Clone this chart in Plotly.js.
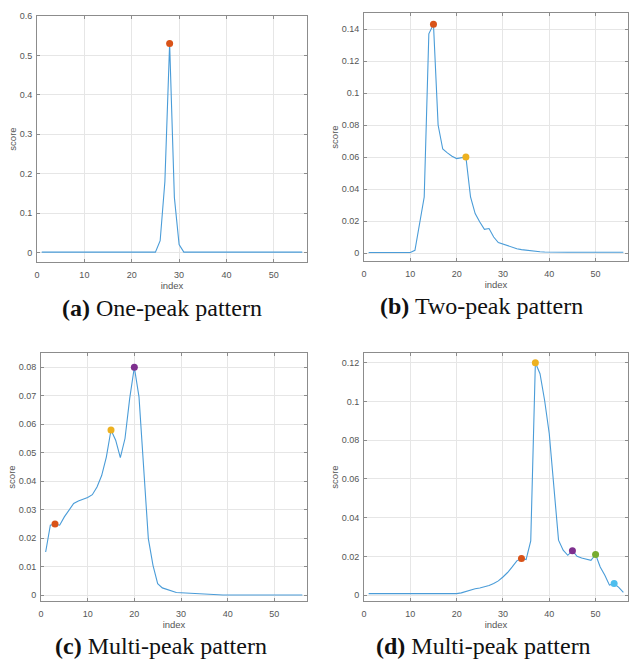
<!DOCTYPE html>
<html>
<head>
<meta charset="utf-8">
<script src="https://cdn.plot.ly/plotly-3.0.1.min.js"></script>
<style>
html,body{margin:0;padding:0;background:#fff;}
#chart{width:630px;height:662px;}
</style>
</head>
<body>
<div id="chart"></div>
<script>
// index axis
var indexValues = [1,2,3,4,5,6,7,8,9,10,11,12,13,14,15,16,17,18,19,20,21,22,23,24,25,26,27,28,29,30,31,32,33,34,35,36,37,38,39,40,41,42,43,44,45,46,47,48,49,50,51,52,53,54,55,56];

// (a) one-peak pattern
var scoresA = [0.001,0.001,0.001,0.001,0.001,0.001,0.001,0.001,0.001,0.001,
               0.001,0.001,0.001,0.001,0.001,0.001,0.001,0.001,0.001,0.001,
               0.001,0.001,0.001,0.001,0.001,0.03,0.18,0.53,0.14,0.02,
               0.001,0.001,0.001,0.001,0.001,0.001,0.001,0.001,0.001,0.001,
               0.001,0.001,0.001,0.001,0.001,0.001,0.001,0.001,0.001,0.001,
               0.001,0.001,0.001,0.001,0.001,0.001];
var peaksA = [28];

// (b) two-peak pattern
var scoresB = [0.0003,0.0003,0.0003,0.0003,0.0003,0.0003,0.0003,0.0003,0.0003,0.0003,
               0.0017,0.018,0.035,0.137,0.143,0.080,0.065,0.0626,0.0605,0.059,
               0.0597,0.060,0.035,0.0246,0.0194,0.0148,0.0153,0.010,0.0065,0.0055,
               0.0048,0.0036,0.0027,0.0021,0.0017,0.0013,0.001,0.0008,0.0006,0.0005,
               0.0005,0.0005,0.0005,0.0005,0.0005,0.0005,0.0005,0.0005,0.0005,0.0005,
               0.0005,0.0005,0.0005,0.0005,0.0005,0.0005];
var peaksB = [15, 22];

// (c) multi-peak pattern
var scoresC = [0.0152,0.0246,0.025,0.0246,0.0275,0.0298,0.0322,0.0331,0.0338,0.0343,
               0.0353,0.038,0.042,0.0485,0.058,0.0544,0.0483,0.055,0.069,0.080,
               0.0696,0.045,0.0199,0.0105,0.0041,0.0026,0.002,0.0015,0.001,0.0009,
               0.0008,0.0006,0.0005,0.0004,0.0003,0.0002,0.0001,0.0001,0.0001,0.0001,
               0.0001,0.0001,0.0001,0.0001,0.0001,0.0001,0.0001,0.0001,0.0001,0.0001,
               0.0001,0.0001,0.0001,0.0001,0.0001,0.0001];
var peaksC = [3, 15, 20];

// (d) multi-peak pattern
var scoresD = [0.0008,0.0008,0.0008,0.0008,0.0008,0.0008,0.0008,0.0008,0.0008,0.0008,
               0.0008,0.0008,0.0008,0.0008,0.0008,0.0008,0.0008,0.0008,0.0008,0.0008,
               0.0012,0.002,0.0026,0.0033,0.0037,0.0043,0.005,0.006,0.0074,0.0094,
               0.0117,0.0146,0.0177,0.019,0.0184,0.028,0.12,0.1143,0.1005,0.0833,
               0.054,0.0284,0.0232,0.0206,0.023,0.0201,0.0192,0.0186,0.018,0.021,
               0.0146,0.0103,0.0052,0.006,0.004,0.0014];
var peaksD = [34, 37, 45, 50, 54];

var captions = ['<b>(a)</b> One-peak pattern', '<b>(b)</b> Two-peak pattern',
                '<b>(c)</b> Multi-peak pattern', '<b>(d)</b> Multi-peak pattern'];
var xTickVals = [0, 10, 20, 30, 40, 50];
var yTicksA = [0, 0.1, 0.2, 0.3, 0.4, 0.5, 0.6];
var yTicksB = [0, 0.02, 0.04, 0.06, 0.08, 0.1, 0.12, 0.14];
var yTicksC = [0, 0.01, 0.02, 0.03, 0.04, 0.05, 0.06, 0.07, 0.08];
var yTicksD = [0, 0.02, 0.04, 0.06, 0.08, 0.1, 0.12];

var peakColors = ['#D95319', '#EDB120', '#7E2F8E', '#77AC30', '#4DBEEE'];
var lineColor = '#4A9CD8';

var W = 630, H = 662;
function xd(a, b) { return [a / W, b / W]; }
function yd(top, bottom) { return [1 - bottom / H, 1 - top / H]; }

var panels = [
  {s: scoresA, p: peaksA, yt: yTicksA, yr: [-0.024, 0.6],    xdom: xd(37, 307),  ydom: yd(16, 262)},
  {s: scoresB, p: peaksB, yt: yTicksB, yr: [-0.005, 0.15],   xdom: xd(364, 628), ydom: yd(13, 261)},
  {s: scoresC, p: peaksC, yt: yTicksC, yr: [-0.002, 0.085],  xdom: xd(41, 307),  ydom: yd(353, 601)},
  {s: scoresD, p: peaksD, yt: yTicksD, yr: [-0.003, 0.125],  xdom: xd(364, 628), ydom: yd(353, 601)}
];
var capPos = [[162, 308], [482, 306], [161, 646], [483, 646]];

var data = [];
var layout = {
  width: W, height: H,
  margin: {l: 0, r: 0, t: 0, b: 0},
  paper_bgcolor: '#ffffff', plot_bgcolor: '#ffffff',
  showlegend: false,
  font: {family: 'Liberation Sans, Arial, sans-serif', color: '#555555', size: 9},
  annotations: []
};

panels.forEach(function (pn, k) {
  var n = k + 1;
  var xa = n === 1 ? 'x' : 'x' + n;
  var ya = n === 1 ? 'y' : 'y' + n;
  data.push({
    type: 'scatter', mode: 'lines', x: indexValues, y: pn.s,
    xaxis: xa, yaxis: ya,
    line: {color: lineColor, width: 1.1}, hoverinfo: 'x+y'
  });
  pn.p.forEach(function (pi, j) {
    data.push({
      type: 'scatter', mode: 'markers', x: [pi], y: [pn.s[indexValues.indexOf(pi)]],
      xaxis: xa, yaxis: ya,
      marker: {color: peakColors[j], size: 7, line: {width: 0}}
    });
  });
  var axCommon = {
    showline: true, linecolor: '#8c8c8c', linewidth: 1, mirror: 'ticks',
    ticks: 'inside', ticklen: 3, tickcolor: '#8c8c8c', tickwidth: 1,
    showgrid: true, gridcolor: '#e6e6e6', gridwidth: 1, zeroline: false,
    tickfont: {size: 9, color: '#555555'}
  };
  layout['xaxis' + (n === 1 ? '' : n)] = Object.assign({}, axCommon, {
    domain: pn.xdom, anchor: ya, range: [0, 57],
    tickmode: 'array', tickvals: xTickVals, ticklabelstandoff: 4,
    title: {text: 'index', font: {size: 9.5, color: '#555555'}, standoff: 2}
  });
  layout['yaxis' + (n === 1 ? '' : n)] = Object.assign({}, axCommon, {
    domain: pn.ydom, anchor: xa, range: pn.yr,
    tickmode: 'array', tickvals: pn.yt, ticklabelstandoff: 2,
    title: {text: 'score', font: {size: 9.5, color: '#555555'}, standoff: 1}
  });
  layout.annotations.push({
    text: captions[k], xref: 'paper', yref: 'paper',
    x: capPos[k][0] / W, y: 1 - capPos[k][1] / H,
    xanchor: 'center', yanchor: 'middle', showarrow: false,
    font: {family: 'Liberation Serif, Times New Roman, serif', size: 24, color: '#111111'}
  });
});

Plotly.newPlot('chart', data, layout, {displayModeBar: false, staticPlot: true});
</script>
</body>
</html>
